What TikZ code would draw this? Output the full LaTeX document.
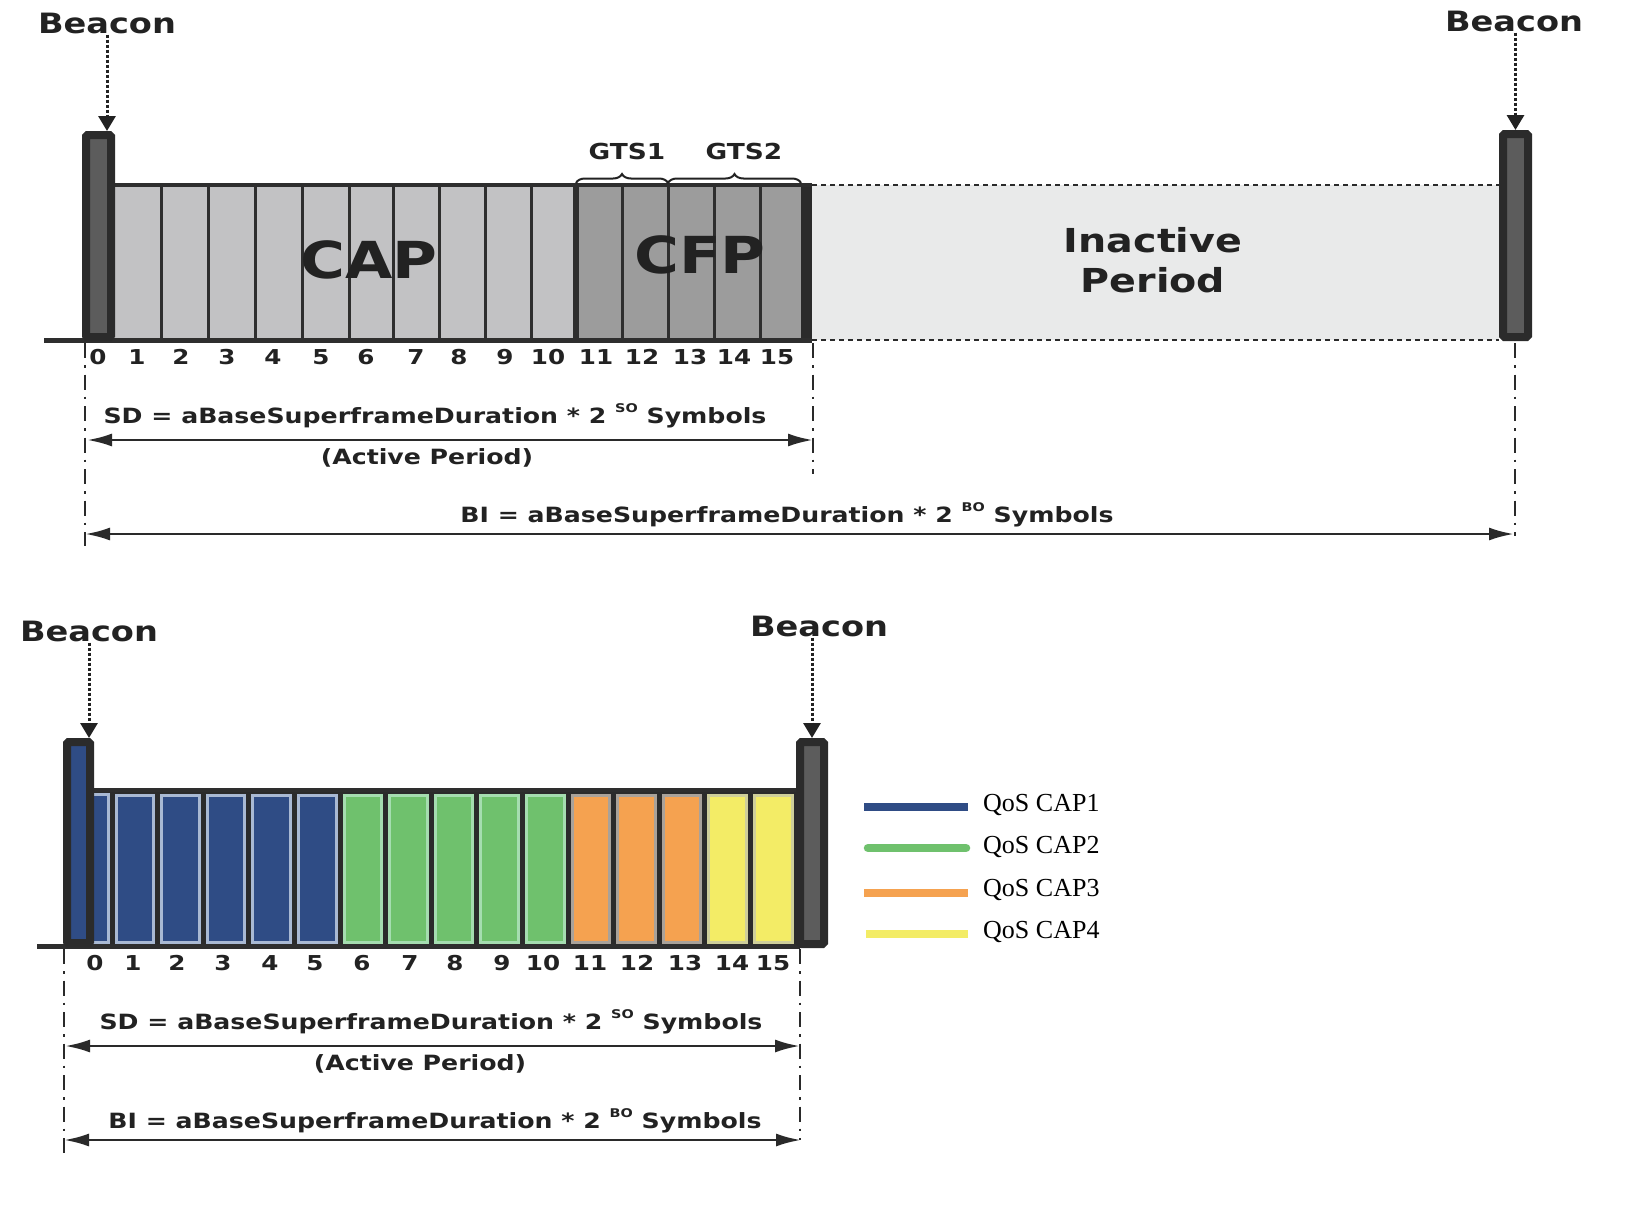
\documentclass[tikz,border=0pt]{standalone}
\usepackage{fontspec}
\newfontfamily\dvb[FakeStretch=1.2]{DejaVu Sans}
\newfontfamily\tms{Liberation Serif}
\usetikzlibrary{arrows.meta,decorations.pathreplacing}
\definecolor{darkbar}{HTML}{2B2B2B}
\definecolor{beaconin}{HTML}{5C5C5C}
\definecolor{capgray}{HTML}{C2C2C4}
\definecolor{cfpgray}{HTML}{9C9C9C}
\definecolor{inact}{HTML}{E9EAEA}
\definecolor{sepc}{HTML}{2E2E2E}
\definecolor{txtdark}{HTML}{222222}
\definecolor{dimc}{HTML}{2A2A2A}
\definecolor{qblue}{HTML}{2F4C85}
\definecolor{qblueb}{HTML}{A9B9D3}
\definecolor{qgreen}{HTML}{6FC16D}
\definecolor{qgreenb}{HTML}{A5DDB0}
\definecolor{qorange}{HTML}{F5A250}
\definecolor{qorangeb}{HTML}{A9A29A}
\definecolor{qyellow}{HTML}{F3EC66}
\definecolor{qyellowb}{HTML}{CFCF9A}
\newcommand\supx[1]{\raisebox{0.5em}{\fontsize{12}{12}\selectfont #1}}
\begin{document}
\begin{tikzpicture}[x=1pt,y=-1pt,
  beaconlbl/.style={font=\dvb\bfseries\fontsize{28}{30}\selectfont, text=txtdark, inner sep=1pt},
  lbl/.style={font=\dvb\bfseries\fontsize{21}{23}\selectfont, text=txtdark, inner sep=0pt},
  num/.style={font=\dvb\bfseries\fontsize{20.5}{22}\selectfont, text=txtdark, inner sep=0pt},
  big/.style={font=\dvb\bfseries\fontsize{51}{55}\selectfont, text=txtdark, inner sep=0pt},
  inactlbl/.style={font=\dvb\bfseries\fontsize{33}{40}\selectfont, text=txtdark, inner sep=0pt, align=center},
  gtslbl/.style={font=\dvb\bfseries\fontsize{22}{24}\selectfont, text=txtdark, inner sep=0pt},
  leglbl/.style={font=\tms\fontsize{26}{28}\selectfont, text=black, inner sep=0pt, anchor=west},
  beaconbar/.style={draw=darkbar, line width=8pt, fill=beaconin, inner sep=0pt, rounded corners=1.5pt},
  sep/.style={draw=sepc, line width=3pt},
  dim/.style={draw=dimc, line width=2.8pt, {Latex[length=25pt,width=13pt]}-{Latex[length=25pt,width=13pt]}},
  dashdot/.style={draw=dimc, line width=2.8pt, dash pattern=on 15pt off 7pt on 2.5pt off 7pt},
  dotarrow/.style={draw=txtdark, line width=3pt, dash pattern=on 3pt off 2pt, -{Triangle[length=15pt,width=17pt]}},
  dotl/.style={draw=dimc, line width=2.5pt, dash pattern=on 5pt off 4pt},
  gtsbrace/.style={draw=txtdark, line width=2pt, decorate, decoration={brace, amplitude=9pt}}
]
\useasboundingbox (0,0) rectangle (1632,1216);
\fill[white] (0,0) rectangle (1632,1216);

% ================= TOP SUPERFRAME =================
\fill[capgray] (115,185) rectangle (576,340);
\fill[cfpgray] (576,185) rectangle (801,340);
\foreach \x in {161,208,255,302,349,393,439,485,531,622,668,714,760}
  \draw[sep] (\x,185) -- (\x,340);
\draw[sepc, line width=6pt] (576,185) -- (576,340);
\fill[darkbar] (801,183) rectangle (812,342);
\draw[sepc, line width=4pt] (113,185) -- (812,185);
\fill[inact] (812,185) rectangle (1499,340);
\draw[dotl] (812,185) -- (1499,185);
\draw[dotl] (812,340) -- (1499,340);
\draw[sepc, line width=5pt] (44,340) -- (812,340);

\node[beaconbar, minimum width=25pt, minimum height=202pt] (tb1) at (98.5,236) {};
\node[beaconbar, minimum width=25pt, minimum height=203pt] (tb2) at (1515.5,235.5) {};

\node[big] (cap) at (369,260) {CAP};
\node[big] (cfp) at (700,255) {CFP};
\node[inactlbl] (inactive) at (1153,260) {Inactive\\Period};

\draw[gtsbrace] (576,183) -- (668,183);
\draw[gtsbrace] (668,183) -- (801,183);
\node[gtslbl] (gts1) at (627,151) {GTS1};
\node[gtslbl] (gts2) at (744,151) {GTS2};

\node[beaconlbl] (bt1) at (107,23) {Beacon};
\node[beaconlbl] (bt2) at (1514,21) {Beacon};
\draw[dotarrow] (bt1.south) -- (bt1.south |- tb1.north);
\draw[dotarrow] (tb2.north |- bt2.south) -- (tb2.north);

\foreach \x/\n in {98/0,137/1,181/2,227/3,273/4,321/5,366/6,416/7,459/8,505/9,548/10,596/11,642/12,690/13,734/14,777/15}
  \node[num] at (\x,357) {\n};

\coordinate (tdl0) at (85,343);  \coordinate (tdl1) at (85,546);
\coordinate (tdm0) at (813,343); \coordinate (tdm1) at (813,474);
\coordinate (tdr0) at (1515,343);\coordinate (tdr1) at (1515,536);
\draw[dashdot] (tdl0) -- (tdl1);
\draw[dashdot] (tdm0) -- (tdm1);
\draw[dashdot] (tdr0) -- (tdr1);
\coordinate (tsd0) at (87,440);  \coordinate (tsd1) at (813,440);
\coordinate (tbi0) at (85,534);  \coordinate (tbi1) at (1514,534);
\draw[dim] (tsd0) -- (tsd1);
\draw[dim] (tbi0) -- (tbi1);
\node[lbl] (tsd) at (435,416) {SD = aBaseSuperframeDuration * 2 \supx{SO} Symbols};
\node[lbl] (tap) at (427,458) {(Active Period)};
\node[lbl] (tbi) at (787,515) {BI = aBaseSuperframeDuration * 2 \supx{BO} Symbols};

% ================= BOTTOM SUPERFRAME =================
\fill[darkbar] (90,788) rectangle (796,948);
\fill[qblue] (92,794.5) rectangle (108,942.5);
\draw[qblueb, line width=3pt] (92,794.5) rectangle (108,942.5);
\foreach \k/\cf/\cb in {1/qblue/qblueb,2/qblue/qblueb,3/qblue/qblueb,4/qblue/qblueb,5/qblue/qblueb,
  6/qgreen/qgreenb,7/qgreen/qgreenb,8/qgreen/qgreenb,9/qgreen/qgreenb,10/qgreen/qgreenb,
  11/qorange/qorangeb,12/qorange/qorangeb,13/qorange/qorangeb,14/qyellow/qyellowb,15/qyellow/qyellowb}{
  \pgfmathsetmacro\xa{112+45.6*(\k-1)+4}
  \pgfmathsetmacro\xb{112+45.6*\k-4}
  \fill[\cf] (\xa,795) rectangle (\xb,942);
  \draw[\cb, line width=3pt] (\xa,795) rectangle (\xb,942);
}
\draw[sepc, line width=4pt] (90,790) -- (800,790);
\draw[sepc, line width=5pt] (37,946) -- (800,946);

\node[beaconbar, fill=qblue, minimum width=23pt, minimum height=201pt] (bb1) at (78.5,842.5) {};
\node[beaconbar, minimum width=24pt, minimum height=202pt] (bb2) at (812,843) {};

\node[beaconlbl] (bl1) at (89,631) {Beacon};
\node[beaconlbl] (bl2) at (819,626) {Beacon};
\draw[dotarrow] (bl1.south) -- (bl1.south |- bb1.north);
\draw[dotarrow] (bb2.north |- bl2.south) -- (bb2.north);

\foreach \x/\n in {95/0,133/1,177/2,223/3,270/4,315/5,362/6,410/7,455/8,502/9,543/10,590/11,637/12,685/13,732/14,773/15}
  \node[num] at (\x,963) {\n};

% legend
\draw[qblue, line width=8.5pt] (864,807) -- (968,807);
\draw[qgreen, line width=8.5pt, line cap=round] (868,848) -- (966,848);
\draw[qorange, line width=8.5pt] (864,893) -- (968,893);
\draw[qyellow, line width=8.5pt] (866,934) -- (968,934);
\node[leglbl] (lg1) at (983,805) {QoS CAP1};
\node[leglbl] (lg2) at (983,847) {QoS CAP2};
\node[leglbl] (lg3) at (983,890) {QoS CAP3};
\node[leglbl] (lg4) at (983,932) {QoS CAP4};

\coordinate (bdl0) at (64,949);  \coordinate (bdl1) at (64,1153);
\coordinate (bdr0) at (800,949); \coordinate (bdr1) at (800,1140);
\draw[dashdot] (bdl0) -- (bdl1);
\draw[dashdot] (bdr0) -- (bdr1);
\coordinate (bsd0) at (65,1046);  \coordinate (bsd1) at (800,1046);
\coordinate (bbi0) at (64,1140);  \coordinate (bbi1) at (801,1140);
\draw[dim] (bsd0) -- (bsd1);
\draw[dim] (bbi0) -- (bbi1);
\node[lbl] (bsd) at (431,1022) {SD = aBaseSuperframeDuration * 2 \supx{SO} Symbols};
\node[lbl] (bap) at (420,1064) {(Active Period)};
\node[lbl] (bbi) at (435,1121) {BI = aBaseSuperframeDuration * 2 \supx{BO} Symbols};
\end{tikzpicture}
\end{document}
